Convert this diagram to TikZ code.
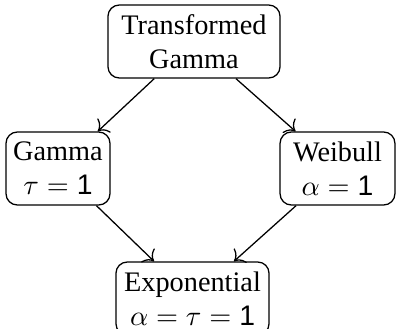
\documentclass[tikz,border=0pt]{standalone}
\usepackage{fontspec}
\usetikzlibrary{arrows.meta}
\setmainfont{Liberation Serif}
\newfontfamily\onefont{Liberation Sans}
\newcommand{\one}{\mbox{\onefont 1}}
\begin{document}
\begin{tikzpicture}[x=0.3534pt,y=-0.3534pt,line width=0.45pt,
  box/.style={draw,rounded corners=4pt,align=center,inner sep=0pt,minimum height=25.8pt},
  arr/.style={-{Computer Modern Rightarrow[scale=1.25]}}]
\useasboundingbox (0,0) rectangle (397,328);
\node[box,minimum width=60.8pt] (tg) at (194,41.5) {Transformed\\Gamma};
\node[box,minimum width=36.75pt] (ga) at (58,168.5) {Gamma\\$\tau=\one$};
\node[box,minimum width=40.6pt] (we) at (337.5,168.5) {Weibull\\$\alpha=\one$};
\node[box,minimum width=54.1pt] (ex) at (192.5,298.5) {Exponential\\$\alpha=\tau=\one$};
\draw[arr] (tg) -- (ga);
\draw[arr] (tg) -- (we);
\draw[arr] (ga) -- (ex);
\draw[arr] (we) -- (ex);
\end{tikzpicture}
\end{document}
